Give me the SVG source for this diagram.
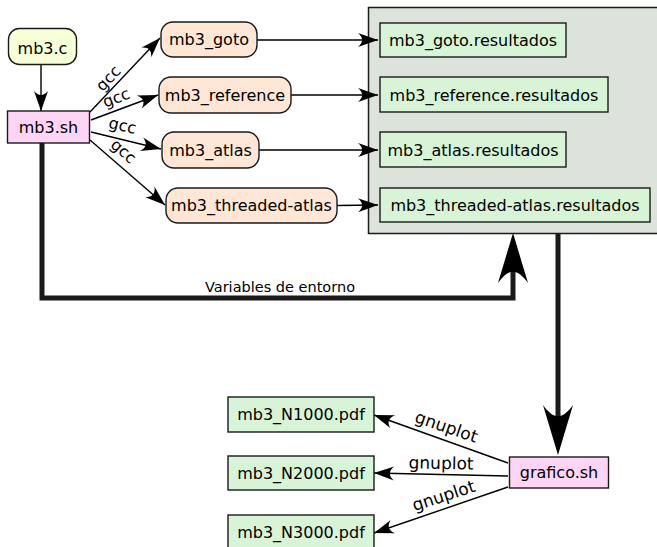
<svg xmlns="http://www.w3.org/2000/svg" width="657" height="547" viewBox="0 0 657 547">
<style>
text{font-family:"DejaVu Sans","Liberation Sans",sans-serif;fill:#000}
.n{font-size:16px;text-anchor:middle}
.lbl{font-size:16px;text-anchor:middle}
.gl{font-size:17px;text-anchor:middle}
.small{font-size:14.5px;text-anchor:middle}
.box{stroke:#1a1a1a;stroke-width:1.4}
.src{fill:#f6ffd5}
.sh{fill:#ffd5f6}
.bin{fill:#ffe6d5}
.res{fill:#d7f4d7}
.thin{fill:none;stroke:#000;stroke-width:1.4}
.thick{fill:none;stroke:#1a1a1a;stroke-width:5;stroke-linejoin:miter}
</style>
<defs>
<marker id="a" markerUnits="userSpaceOnUse" orient="auto" overflow="visible" refX="0" refY="0" markerWidth="24" markerHeight="20">
<path d="M0,0 L-20,-7 C-14.5,-2.2 -14.5,2.2 -20,7 Z" fill="#000"/>
</marker>
<marker id="A" markerUnits="userSpaceOnUse" orient="auto" overflow="visible" refX="-15" refY="0" markerWidth="60" markerHeight="40">
<path d="M0,0 L-50,-15 C-35,-4 -35,4 -50,15 Z" fill="#000"/>
</marker>
</defs>

<g id="resultados-container">
<rect x="368.5" y="7.5" width="300" height="226" fill="#dce3da" stroke="#1a1a1a" stroke-width="1.5"/>
</g>

<g id="connectors">
<path class="thin" d="M41,65 V111" marker-end="url(#a)"/>
<path class="thin" d="M90,112 L160,38" marker-end="url(#a)"/>
<path class="thin" d="M91,120 L158,95" marker-end="url(#a)"/>
<path class="thin" d="M91,132 L161,149" marker-end="url(#a)"/>
<path class="thin" d="M90,140 L165,205" marker-end="url(#a)"/>
<path class="thin" d="M257,40 H378" marker-end="url(#a)"/>
<path class="thin" d="M291,95 H378" marker-end="url(#a)"/>
<path class="thin" d="M259,150 H378" marker-end="url(#a)"/>
<path class="thin" d="M337,205.5 L378,205" marker-end="url(#a)"/>
<path class="thin" d="M508,463 L374,415" marker-end="url(#a)"/>
<path class="thin" d="M508,476 L374,473" marker-end="url(#a)"/>
<path class="thin" d="M508,487 L374,533" marker-end="url(#a)"/>
<path class="thick" d="M42,143 V298 H513 V248" marker-end="url(#A)"/>
<path class="thick" d="M558,234 V440" marker-end="url(#A)"/>
<text class="lbl" transform="translate(112.2,82) rotate(-47)">gcc</text>
<text class="lbl" transform="translate(118.1,102.8) rotate(-21)">gcc</text>
<text class="lbl" transform="translate(121.3,130.9) rotate(13)">gcc</text>
<text class="lbl" transform="translate(120,155.3) rotate(41)">gcc</text>
<text class="gl" transform="translate(444.5,432.3) rotate(19)">gnuplot</text>
<text class="gl" transform="translate(441,469) rotate(1)">gnuplot</text>
<text class="gl" transform="translate(445.4,501.3) rotate(-18)">gnuplot</text>
<text class="small" x="280" y="292">Variables de entorno</text>
</g>

<g id="mb3c"><rect class="box src" x="8.5" y="28.5" width="68" height="36" rx="11"/><text class="n" x="42.5" y="54">mb3.c</text></g>
<g id="mb3sh"><rect class="box sh" x="7.5" y="111" width="82" height="32"/><text class="n" x="48.5" y="133">mb3.sh</text></g>

<g id="mb3_goto"><rect class="box bin" x="161" y="22" width="96" height="35" rx="12"/><text class="n" x="209" y="45">mb3_goto</text></g>
<g id="mb3_reference"><rect class="box bin" x="159" y="77" width="132" height="36" rx="12"/><text class="n" x="225" y="100.5">mb3_reference</text></g>
<g id="mb3_atlas"><rect class="box bin" x="162" y="132" width="97" height="36" rx="12"/><text class="n" x="210.5" y="155.5">mb3_atlas</text></g>
<g id="mb3_threaded-atlas"><rect class="box bin" x="166" y="188" width="171" height="35" rx="12"/><text class="n" x="251.5" y="211">mb3_threaded-atlas</text></g>

<g id="res_goto"><rect class="box res" x="380" y="23" width="186" height="34"/><text class="n" x="473" y="45.5">mb3_goto.resultados</text></g>
<g id="res_reference"><rect class="box res" x="380" y="77" width="228" height="35"/><text class="n" x="494" y="100.5">mb3_reference.resultados</text></g>
<g id="res_atlas"><rect class="box res" x="380" y="132" width="186" height="35"/><text class="n" x="473" y="155.5">mb3_atlas.resultados</text></g>
<g id="res_threaded"><rect class="box res" x="380" y="188" width="270" height="34"/><text class="n" x="515" y="210.5">mb3_threaded-atlas.resultados</text></g>

<g id="grafico"><rect class="box sh" x="509.5" y="457" width="99" height="31"/><text class="n" x="559" y="478">grafico.sh</text></g>

<g id="pdf1000"><rect class="box res" x="228" y="397" width="146" height="35"/><text class="n" x="301" y="420">mb3_N1000.pdf</text></g>
<g id="pdf2000"><rect class="box res" x="228" y="456" width="146" height="34"/><text class="n" x="301" y="478.5">mb3_N2000.pdf</text></g>
<g id="pdf3000"><rect class="box res" x="228" y="515" width="146" height="40"/><text class="n" x="301" y="537.5">mb3_N3000.pdf</text></g>
</svg>
